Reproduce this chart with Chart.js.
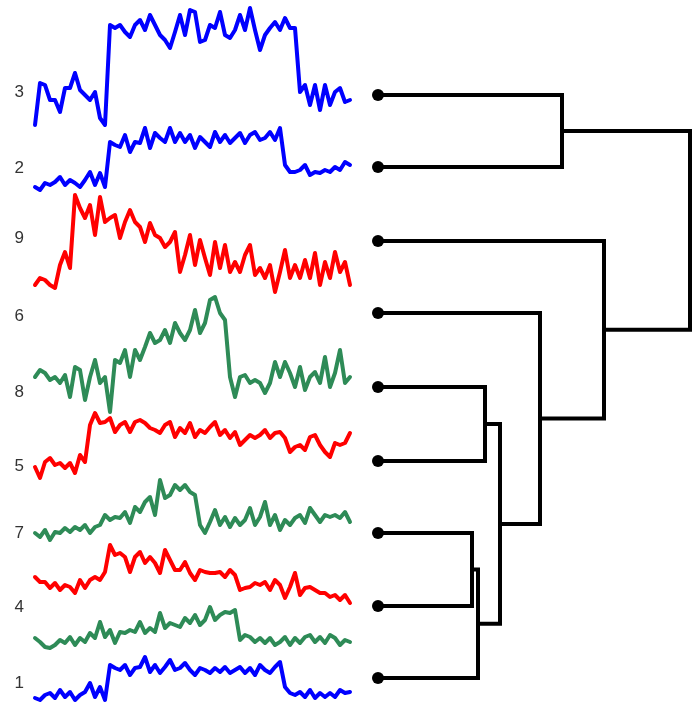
<!DOCTYPE html>
<html>
<head>
<meta charset="utf-8">
<script src="https://cdn.jsdelivr.net/npm/chart.js@4/dist/chart.umd.min.js"></script>
<style>
  html, body { margin: 0; padding: 0; background: #ffffff; }
  #wrap { position: relative; width: 694px; height: 710px; }
</style>
</head>
<body>
<div id="wrap"><canvas id="c"></canvas></div>
<script>
// ---- Data ----
// Leaf labels, top to bottom
const tickLabels = ["3", "2", "9", "6", "8", "5", "7", "4", "1"];
// vertical level of each label / leaf (downward level units)
const labelPos = [92, 168, 238, 316, 392, 466, 533, 607, 683];
const leafPos  = [95, 167, 241, 313, 387, 461, 533, 606, 678];

// Time-series (64 samples each), listed top to bottom
const sig3 = [125,83,85,100,100,112,88,88,73,90,95,100,92,118,125,25,28,25,32,37,25,20,30,15,25,35,40,48,32,15,35,10,12,42,40,25,28,12,35,38,30,15,30,8,30,50,35,28,22,30,18,28,28,92,85,105,85,110,85,105,92,88,102,100];
const sig2 = [187,190,183,185,182,177,185,180,183,187,180,172,185,173,187,142,145,147,135,152,142,143,128,148,133,138,142,128,142,133,142,135,148,137,142,147,132,142,135,143,138,133,143,135,132,140,138,132,140,128,165,172,172,170,165,175,172,173,170,172,167,170,162,165];
const sig9 = [285,278,280,285,288,265,252,268,195,208,218,205,235,197,222,218,215,238,222,210,222,227,242,223,235,238,247,242,232,272,255,235,265,240,258,275,242,268,245,272,262,272,255,245,275,268,278,265,292,272,250,278,265,278,260,278,253,285,262,278,252,272,262,285];
const sig6 = [377,370,373,380,377,383,375,397,367,370,400,377,360,383,377,412,360,363,350,377,350,360,347,333,343,340,330,343,323,333,340,330,310,333,323,300,297,313,320,377,397,377,375,383,380,383,393,383,362,377,362,373,387,367,390,377,372,383,357,387,373,350,383,377];
const sig8 = [467,478,462,458,465,463,468,463,473,455,462,425,413,423,422,418,432,425,422,432,422,420,423,428,430,433,425,422,437,428,433,423,437,430,433,427,422,435,430,438,432,445,440,435,438,435,430,438,433,432,438,452,447,445,450,437,435,445,452,457,443,445,443,433];
const sig5 = [533,537,530,540,532,533,528,532,527,530,525,533,527,525,515,520,517,518,512,523,507,512,502,497,515,480,498,495,485,490,485,492,495,525,533,522,510,525,517,527,518,525,520,508,525,517,502,525,515,530,520,525,518,515,523,508,515,522,515,517,515,518,512,522];
const sig7 = [577,582,582,588,583,590,585,587,593,580,588,580,577,580,572,545,555,553,557,572,557,552,563,557,563,573,550,560,570,570,562,573,580,570,572,573,573,572,577,570,575,590,588,587,583,585,582,590,580,585,598,587,573,595,588,587,590,593,593,597,595,600,595,603];
const sig4 = [638,642,647,648,645,640,643,637,645,638,642,633,638,622,637,630,643,632,633,630,632,622,633,628,632,613,628,623,625,627,618,623,615,625,620,607,620,615,612,613,610,640,635,637,642,638,643,638,645,642,637,645,638,643,637,635,642,637,643,635,638,645,640,642];
const sig1 = [698,700,695,693,698,690,697,692,700,695,692,683,697,687,700,665,668,670,665,675,668,667,657,672,665,673,667,660,670,668,663,670,675,668,670,673,668,672,667,673,670,667,673,668,675,665,670,673,667,662,687,693,695,692,697,690,698,693,697,693,697,690,693,692];

const seriesList = [sig3, sig2, sig9, sig6, sig8, sig5, sig7, sig4, sig1];
const seriesColors = ["#0000ff", "#0000ff", "#ff0000", "#2e8b57", "#ff0000", "#2e8b57", "#ff0000", "#2e8b57", "#0000ff"];

// Dendrogram merges: [childA, childB, height]; leaves are 0..8, new nodes 9..
const merges = [
  [6, 7, 94],
  [9, 8, 100],
  [4, 5, 107],
  [11, 10, 122],
  [3, 12, 162],
  [0, 1, 184],
  [2, 13, 226],
  [14, 15, 312]
];

// ---- Build datasets ----
const datasets = [];

seriesList.forEach((vals, k) => {
  datasets.push({
    data: vals.map((v, i) => ({ x: i, y: v })),
    xAxisID: 'xt', yAxisID: 'y',
    showLine: true, borderColor: seriesColors[k], borderWidth: 4,
    pointRadius: 0, tension: 0, fill: false,
    borderJoinStyle: 'round', borderCapStyle: 'round'
  });
});

const nodeY = leafPos.slice();
const nodeH = leafPos.map(() => 0);
merges.forEach(([a, b, h]) => {
  datasets.push({
    data: [
      { x: nodeH[a], y: nodeY[a] },
      { x: h, y: nodeY[a] },
      { x: h, y: nodeY[b] },
      { x: nodeH[b], y: nodeY[b] }
    ],
    xAxisID: 'xd', yAxisID: 'y',
    showLine: true, borderColor: '#000000', borderWidth: 4,
    pointRadius: 0, tension: 0, fill: false,
    borderJoinStyle: 'miter', borderCapStyle: 'square'
  });
  nodeY.push((nodeY[a] + nodeY[b]) / 2);
  nodeH.push(h);
});

datasets.push({
  data: leafPos.map(v => ({ x: 0, y: v })),
  xAxisID: 'xd', yAxisID: 'y',
  showLine: false, pointRadius: 6, pointHoverRadius: 6,
  pointBackgroundColor: '#000000', pointBorderColor: '#000000', pointBorderWidth: 0
});

new Chart(document.getElementById('c'), {
  type: 'scatter',
  data: { datasets },
  options: {
    responsive: true,
    maintainAspectRatio: false,
    animation: false,
    devicePixelRatio: 1,
    layout: { padding: 0, autoPadding: false },
    plugins: { legend: { display: false }, tooltip: { enabled: false } },
    events: [],
    scales: {
      xt: { type: 'linear', display: false, min: -1, max: 131.8 },
      xd: { type: 'linear', display: false, min: -348, max: 316 },
      y: {
        type: 'linear', position: 'left', reverse: true, min: 0, max: 710,
        grid: { display: false, drawTicks: false },
        border: { display: false },
        afterFit: (axis) => {
          axis.width = 30;
          axis.paddingTop = 0; axis.paddingBottom = 0;
          axis.paddingLeft = 0; axis.paddingRight = 0;
        },
        afterBuildTicks: (axis) => { axis.ticks = labelPos.map(v => ({ value: v })); },
        ticks: {
          autoSkip: false,
          padding: 6,
          color: '#333333',
          font: { family: 'Liberation Sans, Arial, sans-serif', size: 17 },
          callback: (value, index) => tickLabels[index]
        }
      }
    }
  }
});
</script>
</body>
</html>
